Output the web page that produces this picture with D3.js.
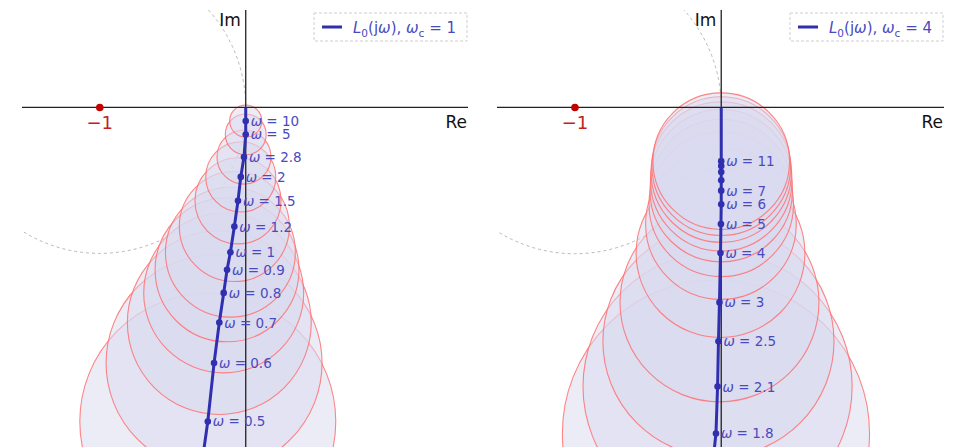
<!DOCTYPE html>
<html>
<head>
<meta charset="utf-8">
<script src="https://cdn.jsdelivr.net/npm/d3@7/dist/d3.min.js"></script>
<style>
  html, body { margin: 0; padding: 0; background: #fff; }
  svg { display: block; font-family: "DejaVu Sans", sans-serif; }
</style>
</head>
<body>
<svg id="chart" width="953" height="447"></svg>
<script>
// Nyquist plot of L0(jω) with multiplicative-uncertainty discs, two crossover frequencies.

// Panel 1: ωc = 1
const omegaA  = [10, 5, 2.8, 2, 1.5, 1.2, 1, 0.9, 0.8, 0.7, 0.6, 0.5];
const reA     = [0.0, 0.0, -0.012, -0.034, -0.053, -0.078, -0.105, -0.128, -0.151, -0.181, -0.217, -0.260];
const imA     = [-0.093, -0.185, -0.340, -0.476, -0.640, -0.816, -0.992, -1.113, -1.271, -1.474, -1.752, -2.152];
const radiusA = [0.11, 0.14, 0.185, 0.24, 0.295, 0.377, 0.445, 0.493, 0.548, 0.63, 0.74, 0.877];
const labelA  = ["10", "5", "2.8", "2", "1.5", "1.2", "1", "0.9", "0.8", "0.7", "0.6", "0.5"];
// curve continues past the last disc (lower ω)
const tailA   = [-0.302, -2.452];

// Panel 2: ωc = 4
const omegaB  = [11, 10, 9, 8, 7, 6, 5, 4, 3, 2.5, 2.1, 1.8];
const reB     = [0.0, 0.0, 0.0, 0.0, 0.0, 0.0, -0.002, -0.005, -0.012, -0.019, -0.025, -0.036];
const imB     = [-0.368, -0.402, -0.443, -0.499, -0.570, -0.664, -0.799, -0.998, -1.336, -1.602, -1.913, -2.234];
const radiusB = [0.467, 0.474, 0.48, 0.484, 0.487, 0.494, 0.515, 0.577, 0.68, 0.79, 0.92, 1.05];
const labelB  = ["11", "", "", "", "7", "6", "5", "4", "3", "2.5", "2.1", "1.8"];
const tailB   = [-0.059, -2.45];

const crossover = ["1", "4"];
const criticalPoint = [-1, 0];

const xDomain = [-1.533, 1.523];
const yDomain = [-2.327, 0.668];

const svg = d3.select("#chart");

const panels = [
  { x0: 22,  x1: 468, omega: omegaA, re: reA, im: imA, r: radiusA, label: labelA, tail: tailA, wc: crossover[0] },
  { x0: 497, x1: 944, omega: omegaB, re: reB, im: imB, r: radiusB, label: labelB, tail: tailB, wc: crossover[1] }
];

const lineBlue = "#2f2fb0";
const textBlue = "#4a4ac0";

panels.forEach((p, k) => {
  const x = d3.scaleLinear().domain(xDomain).range([p.x0, p.x1]);
  const y = d3.scaleLinear().domain(yDomain).range([447, 10]);
  const unit = x(1) - x(0);

  const clipId = "clip" + k;
  svg.append("clipPath").attr("id", clipId)
    .append("rect").attr("x", p.x0).attr("y", 10)
    .attr("width", p.x1 - p.x0).attr("height", 437);

  const g = svg.append("g").attr("clip-path", `url(#${clipId})`);

  // unit circle around the critical point
  g.append("circle")
    .attr("cx", x(criticalPoint[0])).attr("cy", y(criticalPoint[1]))
    .attr("r", unit)
    .attr("fill", "none").attr("stroke", "#b8b8b8")
    .attr("stroke-width", 1).attr("stroke-dasharray", "3,3");

  const pts = p.omega.map((w, i) => ({ w, re: p.re[i], im: p.im[i], r: p.r[i], label: p.label[i] }));

  // uncertainty discs, largest first
  g.selectAll("circle.disc")
    .data(pts.slice().reverse())
    .join("circle")
    .attr("class", "disc")
    .attr("cx", d => x(d.re)).attr("cy", d => y(d.im))
    .attr("r", d => d.r * unit)
    .attr("fill", "rgba(218,218,240,0.5)")
    .attr("stroke", "#ff7070").attr("stroke-opacity", 0.85)
    .attr("stroke-width", 1.1);

  // axes
  g.append("line")
    .attr("x1", p.x0).attr("x2", p.x1)
    .attr("y1", y(0)).attr("y2", y(0))
    .attr("stroke", "#222").attr("stroke-width", 1.3);
  g.append("line")
    .attr("x1", x(0)).attr("x2", x(0))
    .attr("y1", 10).attr("y2", 447)
    .attr("stroke", "#222").attr("stroke-width", 1.3);

  // Nyquist curve
  const path = [[0, 0]].concat(pts.map(d => [d.re, d.im]), [p.tail]);
  g.append("path")
    .datum(path)
    .attr("d", d3.line().x(d => x(d[0])).y(d => y(d[1])))
    .attr("fill", "none").attr("stroke", lineBlue)
    .attr("stroke-width", 3).attr("stroke-linejoin", "round");

  g.selectAll("circle.dot")
    .data(pts)
    .join("circle")
    .attr("class", "dot")
    .attr("cx", d => x(d.re)).attr("cy", d => y(d.im))
    .attr("r", 3.3).attr("fill", lineBlue);

  const lab = g.selectAll("text.wlab")
    .data(pts.filter(d => d.label !== ""))
    .join("text")
    .attr("class", "wlab")
    .attr("x", d => x(d.re) + 5)
    .attr("y", d => y(d.im) + 5)
    .attr("fill", textBlue)
    .attr("font-size", 13.5);
  lab.append("tspan").attr("font-style", "italic").text("ω");
  lab.append("tspan").text(d => " = " + d.label);

  // critical point
  svg.append("circle")
    .attr("cx", x(criticalPoint[0])).attr("cy", y(criticalPoint[1]))
    .attr("r", 3.8).attr("fill", "#c40000");
  svg.append("text")
    .attr("x", x(criticalPoint[0])).attr("y", y(0) + 22)
    .attr("text-anchor", "middle")
    .attr("fill", "#c42020").attr("font-size", 18)
    .text("\u22121");

  // axis names
  svg.append("text")
    .attr("x", x(0) - 5).attr("y", 26)
    .attr("text-anchor", "end").attr("font-size", 17).attr("fill", "#111")
    .text("Im");
  svg.append("text")
    .attr("x", p.x1 - 1).attr("y", y(0) + 21)
    .attr("text-anchor", "end").attr("font-size", 17).attr("fill", "#111")
    .text("Re");

  // legend
  const lx = p.x1 - 154, ly = 13;
  svg.append("rect")
    .attr("x", lx).attr("y", ly).attr("width", 153).attr("height", 28)
    .attr("fill", "#fff").attr("fill-opacity", 0.8)
    .attr("stroke", "#cfcfcf").attr("stroke-width", 1)
    .attr("stroke-dasharray", "3,2");
  svg.append("line")
    .attr("x1", lx + 8).attr("x2", lx + 28)
    .attr("y1", ly + 14).attr("y2", ly + 14)
    .attr("stroke", lineBlue).attr("stroke-width", 3);
  const lt = svg.append("text")
    .attr("x", lx + 39).attr("y", ly + 20)
    .attr("fill", textBlue).attr("font-size", 15);
  lt.append("tspan").attr("font-style", "italic").text("L");
  lt.append("tspan").attr("font-size", 10.5).attr("dy", 4).text("0");
  lt.append("tspan").attr("dy", -4).text("(j");
  lt.append("tspan").attr("font-style", "italic").text("ω");
  lt.append("tspan").text("), ");
  lt.append("tspan").attr("font-style", "italic").text("ω");
  lt.append("tspan").attr("font-size", 10.5).attr("dy", 4).text("c");
  lt.append("tspan").attr("dy", -4).text(" = " + p.wc);
});
</script>
</body>
</html>
